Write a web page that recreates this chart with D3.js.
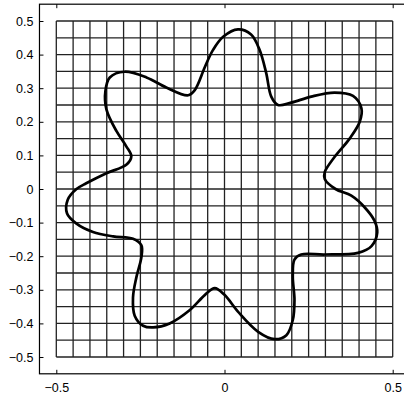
<!DOCTYPE html>
<html>
<head>
<meta charset="utf-8">
<script src="https://cdn.jsdelivr.net/npm/d3@7"></script>
<style>
    body { margin: 0; background: #fff; }
    svg { display: block; }
    .tick text { font-family: "Liberation Sans", Arial, sans-serif; font-size: 12.5px; fill: #000; }
</style>
</head>
<body>
<div id="chart"></div>
<script>
// points, going clockwise from the top lobe
const curveX = [0.04, 0.079, 0.104, 0.124, 0.139, 0.159, 0.198, 0.258, 0.327, 0.382, 0.407, 0.402, 0.372, 0.327, 0.298, 0.298, 0.33,
    0.377, 0.417, 0.446, 0.454, 0.437, 0.397, 0.298, 0.228, 0.208, 0.203, 0.208, 0.203, 0.184, 0.149, 0.1, 0.04, 0.0,
    -0.029, -0.058, -0.103, -0.163, -0.212, -0.242, -0.267, -0.272, -0.262, -0.247, -0.247, -0.272, -0.331, -0.391, -0.44,
    -0.468, -0.466, -0.44, -0.411, -0.351, -0.292, -0.277, -0.292, -0.321, -0.351, -0.354, -0.341, -0.297, -0.232, -0.173,
    -0.108, -0.088, -0.058, -0.034, -0.004];
const curveY = [0.475, 0.46, 0.415, 0.345, 0.275, 0.25, 0.257, 0.275, 0.287, 0.277, 0.24, 0.2, 0.15, 0.095, 0.05, 0.03, 0.0,
    -0.02, -0.055, -0.095, -0.13, -0.17, -0.19, -0.195, -0.195, -0.21, -0.26, -0.33, -0.39, -0.435, -0.447, -0.425, -0.365, -0.315,
    -0.295, -0.315, -0.36, -0.4, -0.412, -0.407, -0.377, -0.323, -0.263, -0.203, -0.168, -0.148, -0.141, -0.128, -0.103,
    -0.073, -0.032, 0.0, 0.017, 0.047, 0.072, 0.097, 0.127, 0.172, 0.237, 0.292, 0.332, 0.349, 0.332, 0.302,
    0.279, 0.295, 0.364, 0.414, 0.453];

const xTicks = [-0.5, 0, 0.5];
const yTicks = [-0.5, -0.4, -0.3, -0.2, -0.1, 0, 0.1, 0.2, 0.3, 0.4, 0.5];

const width = 404, height = 398;

const svg = d3.select('#chart')
    .append('svg')
    .attr('width', width)
    .attr('height', height);

const xScale = d3.scaleLinear().domain([-0.5, 0.5]).range([56.3, 392.7]);
const yScale = d3.scaleLinear().domain([-0.5, 0.5]).range([357, 21]);

//GRID
const gridX = xScale.ticks(20);
const gridY = yScale.ticks(20);
const grid = svg.append('g')
    .attr('stroke', '#222')
    .attr('stroke-width', 1.3);

grid.selectAll('.vline').data(gridX).enter().append('line')
    .attr('x1', d => xScale(d)).attr('x2', d => xScale(d))
    .attr('y1', yScale(-0.5)).attr('y2', yScale(0.5));

grid.selectAll('.hline').data(gridY).enter().append('line')
    .attr('y1', d => yScale(d)).attr('y2', d => yScale(d))
    .attr('x1', xScale(-0.5)).attr('x2', xScale(0.5));

//FRAME
const frameLeft = xScale(-0.55), frameRight = xScale(0.55);
const frameTop = yScale(0.55), frameBottom = yScale(-0.55);
svg.append('rect')
    .attr('x', frameLeft).attr('y', frameTop)
    .attr('width', frameRight - frameLeft).attr('height', frameBottom - frameTop)
    .attr('fill', 'none')
    .attr('stroke', '#000')
    .attr('stroke-width', 1.2);

//AXES
const fmt = d => d === 0 ? '0' : d3.format('.1f')(d);

svg.append('g')
    .attr('transform', `translate(0, ${frameBottom})`)
    .call(d3.axisBottom(xScale).tickValues(xTicks).tickFormat(fmt).tickSizeInner(-4).tickSizeOuter(0).tickPadding(9))
    .call(g => g.select('.domain').remove());

svg.append('g')
    .attr('transform', `translate(0, ${frameTop})`)
    .call(d3.axisTop(xScale).tickValues(xTicks).tickFormat('').tickSizeInner(-4).tickSizeOuter(0))
    .call(g => g.select('.domain').remove());

svg.append('g')
    .attr('transform', `translate(${frameLeft}, 0)`)
    .call(d3.axisLeft(yScale).tickValues(yTicks).tickFormat(fmt).tickSizeInner(-4).tickSizeOuter(0).tickPadding(6))
    .call(g => g.select('.domain').remove());

//CURVE
const points = curveX.map((x, i) => [x, curveY[i]]);
const lineGen = d3.line()
    .x(d => xScale(d[0]))
    .y(d => yScale(d[1]))
    .curve(d3.curveCatmullRomClosed.alpha(0.5));

svg.append('path')
    .datum(points)
    .attr('d', lineGen)
    .attr('fill', 'none')
    .attr('stroke', '#000')
    .attr('stroke-width', 2.7)
    .attr('stroke-linejoin', 'round');
</script>
</body>
</html>
